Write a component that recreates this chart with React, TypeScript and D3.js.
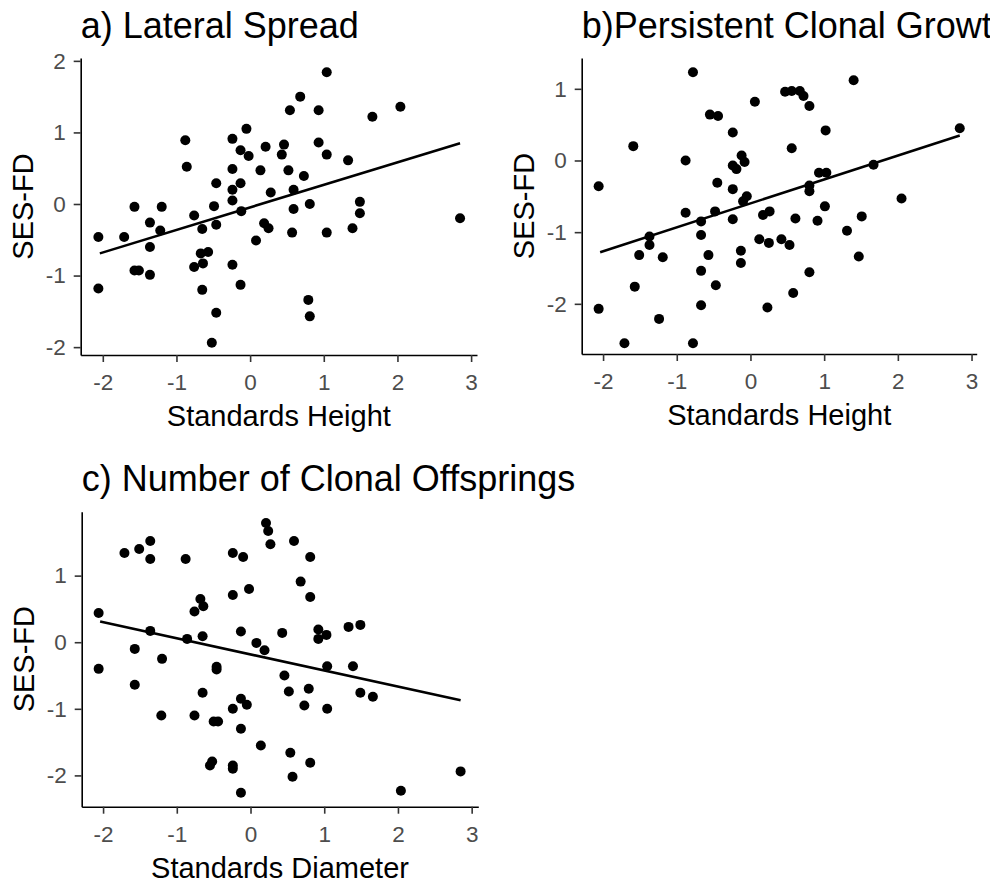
import React, { useRef, useEffect } from "react";
import * as d3 from "d3";

const FONT = "'Liberation Sans', Arial, Helvetica, sans-serif";

// shared x ticks
const xTicks = [-2, -1, 0, 1, 2, 3];

// a) Lateral Spread
const heightA = [
  -2.06, -2.06, -1.71, -1.57, -1.57, -1.51, -1.36, -1.36, -1.36, -1.2, -1.22,
  -0.88, -0.86, -0.76, -0.76, -0.65, -0.67, -0.64, -0.65, -0.57, -0.52, -0.49,
  -0.46, -0.46, -0.46, -0.24, -0.24, -0.24, -0.24, -0.24, -0.13, -0.13, -0.12,
  -0.13, -0.05, -0.02, 0.08, 0.14, 0.19, 0.21, 0.25, 0.28, 0.43, 0.46, 0.52,
  0.54, 0.57, 0.59, 0.59, 0.68, 0.73, 0.79, 0.81, 0.81, 0.93, 0.93, 1.04, 1.04,
  1.04, 1.33, 1.39, 1.49, 1.49, 1.66, 2.04, 2.85,
];
const sesA = [
  -0.46, -1.18, -0.46, -0.04, -0.93, -0.93, -0.26, -0.6, -0.99, -0.04, -0.37,
  0.89, 0.52, -0.16, -0.88, -0.35, -0.69, -0.83, -1.2, -0.67, -1.94, -0.03,
  0.29, -0.29, -1.52, 0.91, 0.49, 0.2, 0.05, -0.85, 0.75, 0.29, -0.1, -1.13,
  1.05, 0.67, -0.51, 0.47, -0.27, 0.8, -0.34, 0.16, 0.69, 0.83, 0.47, 1.31,
  -0.4, 0.2, -0.07, 1.5, 0.39, -1.34, 0.0, -1.57, 1.31, 0.86, 1.84, 0.69, -0.4,
  0.61, -0.34, 0.03, -0.13, 1.22, 1.36, -0.2,
];
const fitA = [
  [-2.04, -0.69],
  [2.85, 0.85],
];
const yTicksA = [-2, -1, 0, 1, 2];

// b) Persistent Clonal Growth
const heightB = [
  -2.06, -2.06, -1.71, -1.59, -1.57, -1.51, -1.37, -1.37, -1.24, -1.19, -0.88,
  -0.88, -0.78, -0.78, -0.67, -0.67, -0.67, -0.67, -0.57, -0.55, -0.47, -0.45,
  -0.44, -0.48, -0.24, -0.24, -0.12, -0.08, -0.19, -0.24, -0.24, -0.13, -0.13,
  -0.05, -0.1, 0.06, 0.12, 0.17, 0.23, 0.25, 0.26, 0.42, 0.47, 0.53, 0.56,
  0.56, 0.58, 0.61, 0.67, 0.72, 0.8, 0.8, 0.8, 0.8, 0.91, 0.93, 1.03, 1.02,
  1.01, 1.31, 1.4, 1.47, 1.51, 1.67, 2.05, 2.84,
];
const sesB = [
  -0.36, -2.07, -2.55, 0.2, -1.76, -1.32, -1.06, -1.18, -2.21, -1.35, 0.0,
  -0.73, 1.23, -2.55, -0.85, -1.04, -1.54, -2.02, -1.32, 0.64, -1.74, -0.31,
  0.62, -0.71, 0.39, -0.07, 0.07, -0.02, -0.12, -0.4, -0.82, -1.26, -1.43,
  -0.5, -0.57, 0.82, -1.1, -0.76, -2.05, -1.15, -0.71, -1.1, 0.96, -1.18, 0.97,
  0.17, -1.85, -0.81, 0.97, 0.9, 0.76, -1.56, -0.35, -0.43, -0.84, -0.17,
  -0.17, 0.42, -0.64, -0.98, 1.12, -1.34, -0.78, -0.06, -0.53, 0.45,
];
const fitB = [
  [-2.04, -1.28],
  [2.84, 0.35],
];
const yTicksB = [-2, -1, 0, 1];

// c) Number of Clonal Offsprings
const diameterC = [
  -2.06, -2.06, -1.71, -1.57, -1.57, -1.51, -1.36, -1.36, -1.36, -1.2, -1.21,
  -0.88, -0.86, -0.76, -0.76, -0.68, -0.64, -0.65, -0.65, -0.55, -0.52, -0.5,
  -0.44, -0.46, -0.46, -0.24, -0.24, -0.24, -0.24, -0.24, -0.13, -0.13, -0.13,
  -0.13, -0.1, -0.05, -0.02, 0.08, 0.14, 0.19, 0.21, 0.24, 0.27, 0.43, 0.46,
  0.52, 0.54, 0.57, 0.59, 0.68, 0.73, 0.79, 0.81, 0.81, 0.81, 0.92, 0.92, 1.03,
  1.04, 1.04, 1.33, 1.39, 1.49, 1.49, 1.66, 2.04, 2.85,
];
const sesC = [
  0.44, -0.4, 1.34, -0.1, -0.64, 1.4, 1.52, 1.25, 0.17, -0.25, -1.1, 1.25, 0.05,
  0.46, -1.1, 0.65, 0.54, 0.09, -0.76, -1.85, -1.79, -1.19, -1.19, -0.37,
  -0.41, 1.34, 0.71, -1.0, -1.85, -1.9, 0.16, -0.85, -1.3, -2.26, 1.28, -0.94,
  0.8, -0.01, -1.55, -0.12, 1.79, 1.67, 1.47, 0.14, -0.5, -0.74, -1.66, -2.02,
  1.52, 0.91, -0.95, -0.7, 1.28, 0.68, -1.81, 0.19, 0.05, 0.11, -0.36, -1.0,
  0.23, -0.36, 0.26, -0.76, -0.82, -2.23, -1.94,
];
const fitC = [
  [-2.04, 0.31],
  [2.85, -0.87],
];
const yTicksC = [-2, -1, 0, 1];

type Box = { left: number; right: number; top: number; bottom: number };

const Panel = ({ id, title, xLabel, xs, ys, fit, box, xDomain, yDomain, yTicks, titleClip }: any) => {
  const xRef = useRef<SVGGElement>(null);
  const yRef = useRef<SVGGElement>(null);
  const b: Box = box;

  const x = d3.scaleLinear().domain(xDomain).range([b.left, b.right]);
  const y = d3.scaleLinear().domain(yDomain).range([b.bottom, b.top]);

  useEffect(() => {
    const style = (g: any) => {
      g.attr("font-family", FONT).attr("font-size", 22.5);
      g.select(".domain").attr("stroke", "#000").attr("stroke-width", 1.6);
      g.selectAll(".tick line").attr("stroke", "#333").attr("stroke-width", 1.6);
      g.selectAll(".tick text").attr("fill", "#4D4D4D");
    };
    const xAxis = d3
      .axisBottom(x)
      .tickValues(xTicks)
      .tickSize(7)
      .tickSizeOuter(0)
      .tickPadding(12)
      .tickFormat((d: any) => String(d));
    d3.select(xRef.current).call(xAxis as any).call(style);

    const yAxis = d3
      .axisLeft(y)
      .tickValues(yTicks)
      .tickSize(7)
      .tickSizeOuter(0)
      .tickPadding(8)
      .tickFormat((d: any) => String(d));
    d3.select(yRef.current).call(yAxis as any).call(style);
  }, []);

  const line = d3
    .line<number[]>()
    .x((d) => x(d[0]))
    .y((d) => y(d[1]));

  const cx = (b.left + b.right) / 2;
  const cy = (b.top + b.bottom) / 2;

  return (
    <g>
      <defs>
        <clipPath id={`title-${id}`}>
          <rect x={0} y={0} width={titleClip} height={884} />
        </clipPath>
      </defs>
      <text
        x={b.left}
        y={b.top - 20.5}
        fontFamily={FONT}
        fontSize={36}
        fill="#000"
        clipPath={`url(#title-${id})`}
      >
        {title}
      </text>
      {xs.map((v: number, i: number) => (
        <circle key={i} cx={x(v)} cy={y(ys[i])} r={5} fill="#000" />
      ))}
      <path d={line(fit) || ""} fill="none" stroke="#000" strokeWidth={2.6} />
      <g ref={xRef} transform={`translate(0,${b.bottom})`} />
      <g ref={yRef} transform={`translate(${b.left},0)`} />
      <text
        x={cx}
        y={b.bottom + 71}
        textAnchor="middle"
        fontFamily={FONT}
        fontSize={29}
        fill="#000"
      >
        {xLabel}
      </text>
      <text
        transform={`translate(${b.left - 47.5},${cy}) rotate(-90)`}
        textAnchor="middle"
        fontFamily={FONT}
        fontSize={29}
        fill="#000"
      >
        SES-FD
      </text>
    </g>
  );
};

export default function App() {
  return (
    <svg
      width={998}
      height={884}
      style={{ position: "absolute", left: 0, top: 0, background: "#fff" }}
    >
      <rect width={998} height={884} fill="#fff" />
      <Panel
        id="a"
        title="a) Lateral Spread"
        xLabel="Standards Height"
        xs={heightA}
        ys={sesA}
        fit={fitA}
        box={{ left: 80.7, right: 477, top: 58, bottom: 355 }}
        xDomain={[-2.3, 3.08]}
        yDomain={[-2.11, 2.04]}
        yTicks={yTicksA}
        titleClip={499}
      />
      <Panel
        id="b"
        title="b)Persistent Clonal Growth"
        xLabel="Standards Height"
        xs={heightB}
        ys={sesB}
        fit={fitB}
        box={{ left: 581.7, right: 976.7, top: 58, bottom: 354 }}
        xDomain={[-2.29, 3.07]}
        yDomain={[-2.7, 1.43]}
        yTicks={yTicksB}
        titleClip={990}
      />
      <Panel
        id="c"
        title="c) Number of Clonal Offsprings"
        xLabel="Standards Diameter"
        xs={diameterC}
        ys={sesC}
        fit={fitC}
        box={{ left: 81.7, right: 478.3, top: 511.7, bottom: 806.7 }}
        xDomain={[-2.29, 3.09]}
        yDomain={[-2.47, 1.96]}
        yTicks={yTicksC}
        titleClip={998}
      />
    </svg>
  );
}
